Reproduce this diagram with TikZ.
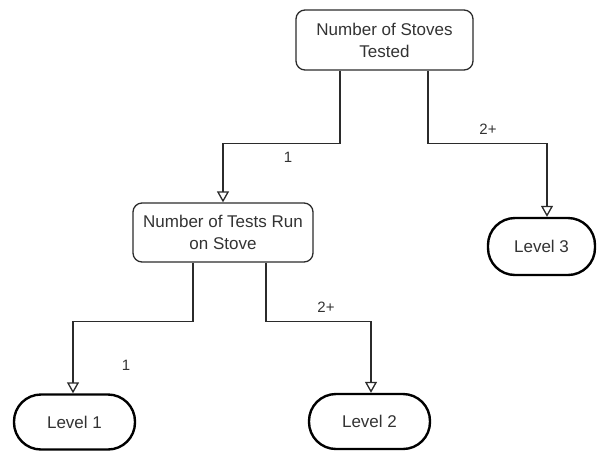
\documentclass[tikz,border=0pt]{standalone}
\usepackage{fontspec}
\setmainfont{Liberation Sans}
\usetikzlibrary{arrows.meta}
\definecolor{txt}{HTML}{333333}
\definecolor{ln}{HTML}{2B2B2B}
\tikzset{
  procbox/.style={draw=ln, line width=1.3pt, rounded corners=9pt, align=center,
    text=txt, font=\fontsize{17}{22}\selectfont, inner sep=0pt},
  termbox/.style={draw=black, line width=2.4pt, rounded corners=27pt, align=center,
    text=txt, font=\fontsize{17}{22}\selectfont, inner sep=0pt},
  arr/.style={draw=ln, line width=1.3pt, -{Triangle[open, width=12pt, length=11pt, line width=1.3pt]}},
  elabel/.style={text=txt, font=\fontsize{15}{17}\selectfont, inner sep=0pt}
}
\begin{document}
\begin{tikzpicture}[x=1pt, y=1pt]
\useasboundingbox (0,0) rectangle (597,-451);
\node[procbox, minimum width=177pt, minimum height=60pt] (top) at (384.5,-40) {Number of Stoves\\Tested};
\node[procbox, minimum width=180pt, minimum height=59pt] (mid) at (223,-232.5) {Number of Tests Run\\on Stove};
\node[termbox, minimum width=121pt, minimum height=55pt] (l1) at (74.5,-422) {Level 1};
\node[termbox, minimum width=121pt, minimum height=55pt] (l2) at (369.5,-421.5) {Level 2};
\node[termbox, minimum width=107pt, minimum height=57pt] (l3) at (541.5,-246.5) {Level 3};
\draw[arr] ([xshift=-44.5pt]top.south) -- ++(0,-73) -| (mid.north);
\draw[arr] ([xshift=43.5pt]top.south) -- ++(0,-73) -| ([xshift=5.5pt]l3.north);
\draw[arr] ([xshift=-30pt]mid.south) -- ++(0,-59) -| ([xshift=-1.5pt]l1.north);
\draw[arr] ([xshift=43pt]mid.south) -- ++(0,-59) -| ([xshift=1.5pt]l2.north);
\node[elabel] (lab1) at (288,-157) {1};
\node[elabel] (lab2) at (488,-129) {2+};
\node[elabel] (lab3) at (126,-365) {1};
\node[elabel] (lab4) at (326,-307) {2+};
\end{tikzpicture}
\end{document}
